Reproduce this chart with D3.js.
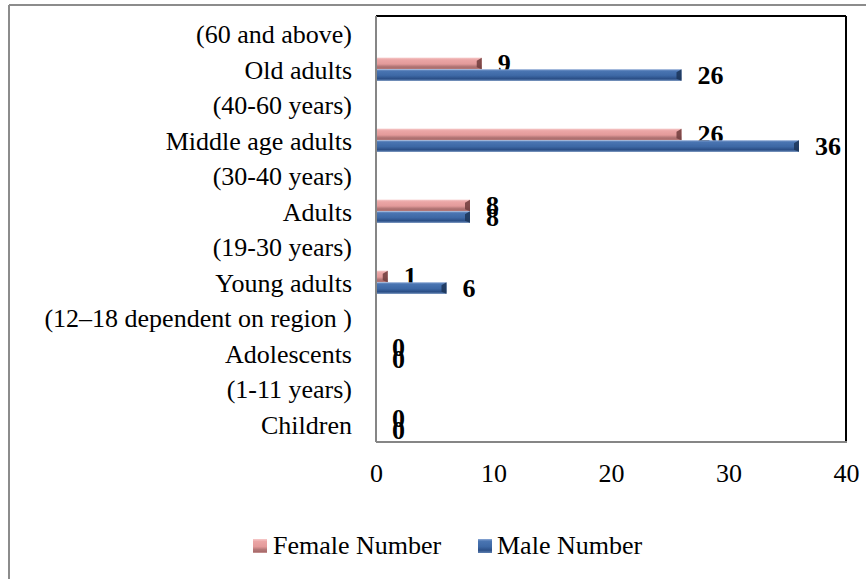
<!DOCTYPE html>
<html>
<head>
<meta charset="utf-8">
<script src="https://cdn.jsdelivr.net/npm/d3@7"></script>
<style>
  html, body { margin: 0; padding: 0; background: #fff; }
  svg { display: block; }
  text { font-family: "Liberation Serif", "Times New Roman", serif; fill: #000; }
</style>
</head>
<body>
<script>
// Age-group categories, listed bottom to top (each group followed by its age range row)
const categories = [
  "Children", "(1-11 years)",
  "Adolescents", "(12–18 dependent on region )",
  "Young adults", "(19-30 years)",
  "Adults", "(30-40 years)",
  "Middle age adults", "(40-60 years)",
  "Old adults", "(60 and above)"
];
// Counts per category (null = age-range row, no bar)
const femaleNumber = [0, null, 0, null, 1, null, 8, null, 26, null, 9, null];
const maleNumber   = [0, null, 0, null, 6, null, 8, null, 36, null, 26, null];
const xTicks = [0, 10, 20, 30, 40];
const seriesNames = ["Female Number", "Male Number"];

const W = 866, H = 579;
const plot = { left: 376, right: 846, top: 16, bottom: 442 };

const svg = d3.select("body").append("svg")
  .attr("width", W).attr("height", H);

// Gradients giving the bars their bevelled look
const defs = svg.append("defs");
function grad(id, stops) {
  const g = defs.append("linearGradient").attr("id", id)
    .attr("x1", 0).attr("y1", 0).attr("x2", 0).attr("y2", 1);
  stops.forEach(([o, c]) => g.append("stop").attr("offset", o).attr("stop-color", c));
}
grad("gFemale", [[0, "#f6c9c9"], [0.18, "#eba6a6"], [0.55, "#e39a9a"], [0.75, "#b57878"], [0.92, "#a86a6a"], [1, "#d7a9a9"]]);
grad("gMale", [[0, "#8eaad6"], [0.15, "#4a75b2"], [0.55, "#3d68a5"], [0.8, "#2c5088"], [1, "#5d7fb0"]]);

// Outer frame (top and left edges)
svg.append("line").attr("x1", 9).attr("y1", 5).attr("x2", W).attr("y2", 5)
  .attr("stroke", "#8c8c8c").attr("stroke-width", 2);
svg.append("line").attr("x1", 9).attr("y1", 5).attr("x2", 9).attr("y2", H)
  .attr("stroke", "#8c8c8c").attr("stroke-width", 2);

const x = d3.scaleLinear().domain([0, 40]).range([plot.left, plot.right]);
const y = d3.scaleBand().domain(categories.slice().reverse())
  .range([plot.top, plot.bottom]).padding(0);

const barH = 11.6;

// Plot frame: black top/right, grey axis lines left/bottom
svg.append("line").attr("x1", plot.left).attr("x2", plot.right)
  .attr("y1", plot.top).attr("y2", plot.top).attr("stroke", "#000").attr("stroke-width", 2);
svg.append("line").attr("x1", plot.right).attr("x2", plot.right)
  .attr("y1", plot.top).attr("y2", plot.bottom).attr("stroke", "#000").attr("stroke-width", 2);

// Category axis labels
svg.append("g").selectAll("text").data(categories).join("text")
  .attr("x", 352)
  .attr("y", d => y(d) + y.bandwidth() / 2 + 9.5)
  .attr("text-anchor", "end")
  .attr("font-size", 26)
  .text(d => d);

// Bars
const series = [
  { name: seriesNames[0], values: femaleNumber, fill: "url(#gFemale)", cap: "#6e3c3c", off: -barH },
  { name: seriesNames[1], values: maleNumber, fill: "url(#gMale)", cap: "#1c3558", off: 0 }
];

series.forEach(s => {
  const pts = categories.map((c, i) => ({ c, v: s.values[i] })).filter(d => d.v !== null);
  const g = svg.append("g");
  const bars = pts.filter(d => d.v > 0);
  g.selectAll("rect").data(bars).join("rect")
    .attr("x", x(0))
    .attr("y", d => y(d.c) + y.bandwidth() / 2 + s.off)
    .attr("width", d => x(d.v) - x(0))
    .attr("height", barH)
    .attr("fill", s.fill);
  // dark bevelled end cap
  g.selectAll("path").data(bars).join("path")
    .attr("d", d => {
      const xe = x(d.v), t = y(d.c) + y.bandwidth() / 2 + s.off, b = t + barH;
      const w = Math.min(5, xe - x(0));
      return `M${xe - w},${t + 3}L${xe},${t}L${xe},${b}L${xe - w},${b - 2}Z`;
    })
    .attr("fill", s.cap).attr("opacity", 0.85);
  // value labels
  g.selectAll("text").data(pts).join("text")
    .attr("x", d => x(d.v) + 16)
    .attr("y", d => y(d.c) + y.bandwidth() / 2 + s.off + barH / 2 + 9)
    .attr("font-size", 26)
    .attr("font-weight", "bold")
    .text(d => d.v);
});

// Left (category) axis line and bottom axis line
svg.append("line").attr("x1", plot.left).attr("x2", plot.left)
  .attr("y1", plot.top).attr("y2", plot.bottom).attr("stroke", "#868686").attr("stroke-width", 2);
svg.append("line").attr("x1", plot.left).attr("x2", plot.right + 1)
  .attr("y1", plot.bottom).attr("y2", plot.bottom).attr("stroke", "#868686").attr("stroke-width", 2);

// Value axis tick labels
const xAxis = d3.axisBottom(x).tickValues(xTicks).tickSize(0).tickPadding(0);
const ax = svg.append("g").attr("transform", `translate(0,${plot.bottom})`).call(xAxis);
ax.select(".domain").remove();
ax.selectAll("text")
  .attr("font-size", 26)
  .attr("font-family", "'Liberation Serif', 'Times New Roman', serif")
  .attr("fill", "#000")
  .attr("dy", 0)
  .attr("y", 40);

// Legend
const legendItems = [
  { name: seriesNames[0], fill: "url(#gFemale)", mx: 253, tx: 273 },
  { name: seriesNames[1], fill: "url(#gMale)", mx: 478, tx: 497 }
];
const lg = svg.append("g");
lg.selectAll("rect").data(legendItems).join("rect")
  .attr("x", d => d.mx).attr("y", 539).attr("width", 14).attr("height", 14)
  .attr("fill", d => d.fill);
lg.selectAll("text").data(legendItems).join("text")
  .attr("x", d => d.tx).attr("y", 554)
  .attr("font-size", 26)
  .text(d => d.name);
</script>
</body>
</html>
